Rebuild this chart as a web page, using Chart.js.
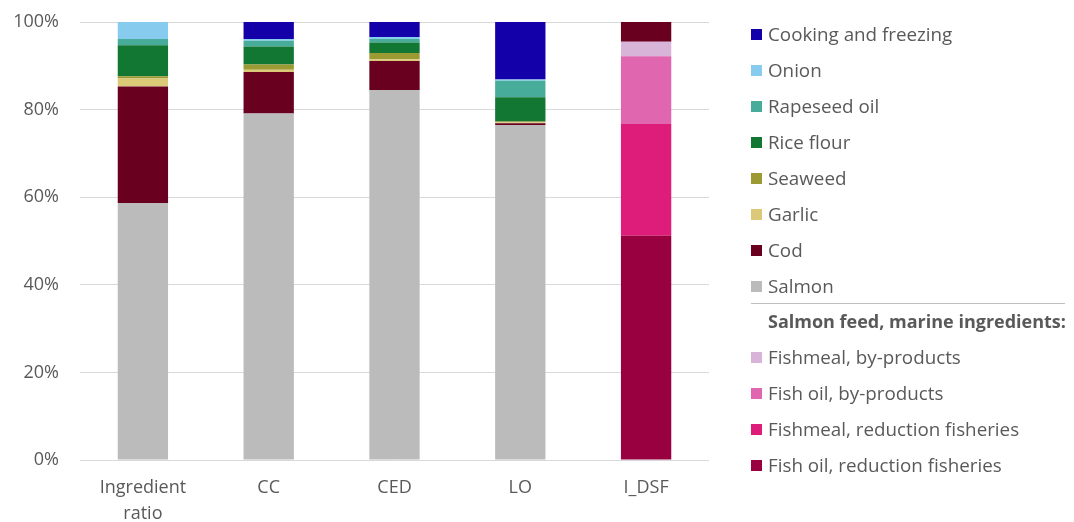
<!DOCTYPE html>
<html>
<head>
<script src="https://cdn.jsdelivr.net/npm/chart.js@4"></script>
<style>
  body { margin: 0; background: #fff; font-family: "Open Sans", sans-serif; }
  #wrap { position: relative; width: 1074px; height: 522px; }
  #legend { position: absolute; left: 0; top: 0; width: 1074px; height: 522px; pointer-events: none; }
  .item { position: absolute; left: 751px; height: 20px; display: flex; align-items: center; color: #595959; font-size: 18.8px; white-space: nowrap; }
  .box { width: 11px; height: 11px; margin-right: 6px; }
  .head { position: absolute; left: 768px; color: #595959; font-size: 18px; font-weight: bold; white-space: nowrap; }
  .sep { position: absolute; left: 751px; width: 314px; height: 0; border-top: 1px solid #bfbfbf; }
</style>
</head>
<body>
<div id="wrap">
  <canvas id="myChart" width="1074" height="522"></canvas>
  <div id="legend"></div>
</div>
<script>
  // categories and series (percent of total)
  let categories = [["Ingredient", "ratio"], "CC", "CED", "LO", "I_DSF"];

  let fishOilReduction   = [0, 0, 0, 0, 51.2];
  let fishmealReduction  = [0, 0, 0, 0, 25.5];
  let fishOilByproducts  = [0, 0, 0, 0, 15.5];
  let fishmealByproducts = [0, 0, 0, 0, 3.3];
  let salmon      = [58.7, 79.1, 84.5, 76.5, 0];
  let cod         = [26.6, 9.5, 6.6, 0.4, 4.5];
  let garlic      = [1.8, 0.5, 0.4, 0.2, 0];
  let seaweed     = [0.5, 1.2, 1.4, 0.2, 0];
  let riceFlour   = [7.1, 4.1, 2.4, 5.5, 0];
  let rapeseedOil = [1.4, 1.3, 0.8, 3.8, 0];
  let onion       = [3.9, 0.4, 0.5, 0.3, 0];
  let cooking     = [0, 3.9, 3.4, 13.1, 0];

  let yTicks = [0, 20, 40, 60, 80, 100];

  // stacking order, bottom to top
  let series = [
    {label: "Fish oil, reduction fisheries", data: fishOilReduction, color: "#980040", marine: true},
    {label: "Fishmeal, reduction fisheries", data: fishmealReduction, color: "#de1d7a", marine: true},
    {label: "Fish oil, by-products", data: fishOilByproducts, color: "#e066b0", marine: true},
    {label: "Fishmeal, by-products", data: fishmealByproducts, color: "#d9b4d9", marine: true},
    {label: "Salmon", data: salmon, color: "#bbbbbb"},
    {label: "Cod", data: cod, color: "#6a0020"},
    {label: "Garlic", data: garlic, color: "#dcc978"},
    {label: "Seaweed", data: seaweed, color: "#9c9a32"},
    {label: "Rice flour", data: riceFlour, color: "#137734"},
    {label: "Rapeseed oil", data: rapeseedOil, color: "#48ac9a"},
    {label: "Onion", data: onion, color: "#87ccee"},
    {label: "Cooking and freezing", data: cooking, color: "#1400a8"}
  ];

  let ctx = document.getElementById('myChart').getContext('2d');
  Chart.defaults.font.family = '"Open Sans", sans-serif';
  Chart.defaults.color = '#595959';

  let chart = new Chart(ctx, {
    type: 'bar',
    data: {
      labels: categories,
      datasets: series.map(s => ({
        label: s.label,
        data: s.data,
        backgroundColor: s.color,
        borderWidth: 0,
        barPercentage: 0.4,
        categoryPercentage: 1
      }))
    },
    options: {
      responsive: false,
      animation: false,
      layout: {padding: {top: 22, right: 365, left: 0, bottom: 0}},
      plugins: {legend: {display: false}, tooltip: {enabled: false}},
      scales: {
        x: {
          stacked: true,
          grid: {display: false, drawTicks: false},
          border: {display: false},
          ticks: {font: {size: 18, lineHeight: 1.45}, color: '#595959', padding: 15, maxRotation: 0},
          afterFit: function(scale) { scale.height = 62; }
        },
        y: {
          stacked: true,
          min: 0,
          max: 100,
          afterBuildTicks: function(scale) { scale.ticks = yTicks.map(v => ({value: v})); },
          ticks: {font: {size: 18}, color: '#595959', padding: 21, callback: v => v + '%'},
          grid: {color: '#d9d9d9', lineWidth: 1, drawTicks: false},
          border: {display: false},
          afterFit: function(scale) {
            scale.width = 80;
            scale.paddingTop = 0;
            scale.paddingBottom = 0;
          }
        }
      }
    }
  });

  // legend on the right, top of stack first, marine ingredients under a header
  let legend = document.getElementById('legend');
  let rowY = 34;
  let addItem = function(s) {
    let d = document.createElement('div');
    d.className = 'item';
    d.style.top = (rowY - 10) + 'px';
    d.innerHTML = '<span class="box" style="background:' + s.color + '"></span>' + s.label;
    legend.appendChild(d);
    rowY += 36;
  };
  series.filter(s => !s.marine).reverse().forEach(addItem);
  let sep = document.createElement('div');
  sep.className = 'sep';
  sep.style.top = '303px';
  legend.appendChild(sep);
  let head = document.createElement('div');
  head.className = 'head';
  head.style.top = '309px';
  head.textContent = 'Salmon feed, marine ingredients:';
  legend.appendChild(head);
  rowY = 357;
  series.filter(s => s.marine).reverse().forEach(addItem);
</script>
</body>
</html>
